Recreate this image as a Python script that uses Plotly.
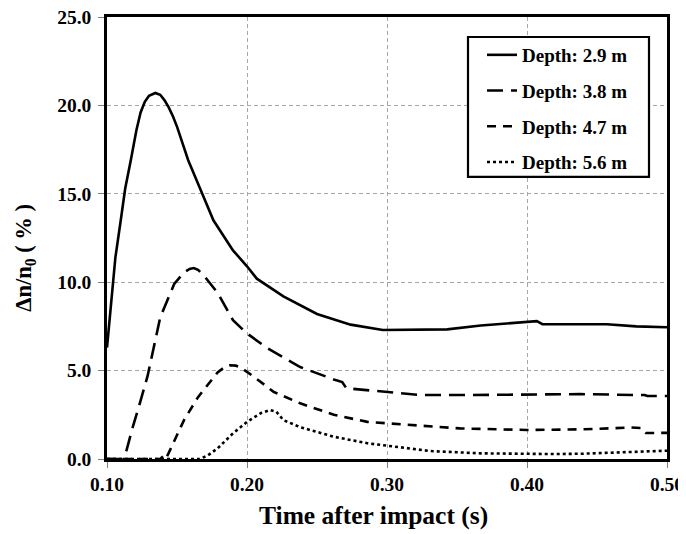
import plotly.graph_objects as go

# Depth 2.9 m
t1 = [0.100, 0.103, 0.106, 0.110, 0.113, 0.117, 0.121, 0.124, 0.127, 0.130, 0.1345, 0.138, 0.141,
      0.144, 0.147, 0.150, 0.158, 0.167, 0.176, 0.190, 0.200, 0.207, 0.226, 0.250, 0.274, 0.297,
      0.320, 0.343, 0.367, 0.385, 0.400, 0.405, 0.407, 0.411, 0.431, 0.457, 0.478, 0.500]
v1 = [6.3, 9.0, 11.4, 13.6, 15.3, 16.9, 18.6, 19.6, 20.2, 20.55, 20.7, 20.6, 20.3,
      19.9, 19.4, 18.8, 16.9, 15.2, 13.5, 11.8, 10.9, 10.2, 9.2, 8.2, 7.6, 7.3,
      7.3, 7.33, 7.55, 7.68, 7.76, 7.82, 7.8, 7.63, 7.63, 7.62, 7.5, 7.45]

# Depth 3.8 m
t2 = [0.100, 0.111, 0.114, 0.118, 0.124, 0.129, 0.138, 0.148, 0.155, 0.159, 0.162, 0.165, 0.169,
      0.179, 0.190, 0.200, 0.214, 0.238, 0.262, 0.268, 0.271, 0.285, 0.298, 0.324, 0.360, 0.400,
      0.438, 0.478, 0.484, 0.486, 0.500]
v2 = [0.0, 0.0, 0.5, 1.7, 3.3, 4.7, 8.0, 9.9, 10.55, 10.75, 10.8, 10.7, 10.4,
      9.4, 7.85, 7.1, 6.3, 5.2, 4.5, 4.35, 4.0, 3.9, 3.8, 3.62, 3.62, 3.65,
      3.67, 3.62, 3.62, 3.56, 3.56]

# Depth 4.7 m
t3 = [0.100, 0.138, 0.140, 0.142, 0.145, 0.155, 0.165, 0.179, 0.184, 0.188, 0.192, 0.195, 0.205,
      0.219, 0.238, 0.262, 0.286, 0.309, 0.330, 0.352, 0.400, 0.440, 0.474, 0.482, 0.485, 0.500]
v3 = [0.0, 0.0, 0.15, 0.0, 0.5, 2.2, 3.5, 4.9, 5.2, 5.3, 5.28, 5.2, 4.65,
      3.8, 3.15, 2.5, 2.1, 1.98, 1.85, 1.73, 1.64, 1.68, 1.78, 1.75, 1.47, 1.48]

# Depth 5.6 m
t4 = [0.100, 0.166, 0.172, 0.179, 0.190, 0.200, 0.210, 0.2166, 0.221, 0.226, 0.238, 0.262,
      0.286, 0.309, 0.331, 0.367, 0.400, 0.419, 0.440, 0.466, 0.500]
v4 = [0.0, 0.0, 0.2, 0.6, 1.45, 2.1, 2.6, 2.77, 2.67, 2.2, 1.8, 1.26,
      0.89, 0.66, 0.45, 0.32, 0.27, 0.28, 0.3, 0.36, 0.47]

names = ["Depth: 2.9 m", "Depth: 3.8 m", "Depth: 4.7 m", "Depth: 5.6 m"]
x_ticks = [0.10, 0.20, 0.30, 0.40, 0.50]
y_ticks = [0.0, 5.0, 10.0, 15.0, 20.0, 25.0]
x_title = "Time after impact (s)"
y_title = "Δn/n<sub>0</sub> ( % )"

FONT = "Liberation Serif"
series = [(t1, v1), (t2, v2), (t3, v3), (t4, v4)]
dashes = ["solid", "16px,8px", "9px,7px", "3px,3px"]

# plot area in page pixels (page has an 8px body offset)
PL, PR, PT, PB = 107.0, 667.0, 17.0, 459.5
PW, PH = PR - PL, PB - PT
def px(x): return (x - PL) / PW
def py(y): return (PB - y) / PH

fig = go.Figure()
for i, ((t, v), name, d) in enumerate(zip(series, names, dashes)):
    fig.add_trace(go.Scatter(
        x=t, y=v, mode="lines", name=name, legendgroup=f"g{i}",
        line=dict(color="black", width=2.6, dash=d),
    ))

axis_common = dict(
    showline=True, linecolor="black", linewidth=2.5, mirror=True,
    showgrid=True, gridcolor="#a6a6a6", gridwidth=1, griddash="4px,3px",
    ticks="outside", tickcolor="#808080", ticklen=6, tickwidth=1,
    tickfont=dict(family=FONT, size=19.5, color="black", weight="bold"),
    zeroline=False, automargin=False, ticklabeloverflow="allow",
)

fig.update_xaxes(range=[0.10, 0.50], tickvals=x_ticks, tickformat=".2f", **axis_common)
fig.update_yaxes(range=[0, 25], tickvals=y_ticks, tickformat=".1f", ticklabelstandoff=3, **axis_common)

# legend frame
fig.add_shape(type="rect", xref="paper", yref="paper",
              x0=px(468), x1=px(649), y0=py(177), y1=py(37),
              line=dict(color="black", width=2.2), fillcolor="white", layer="above")

fig.add_annotation(text=x_title, xref="paper", yref="paper",
                   x=px(373), y=py(516),
                   xanchor="center", yanchor="middle", showarrow=False,
                   font=dict(family=FONT, size=25.5, color="black", weight="bold"))
fig.add_annotation(text=y_title, xref="paper", yref="paper", textangle=-90,
                   x=px(25), y=py(258),
                   xanchor="center", yanchor="middle", showarrow=False,
                   font=dict(family=FONT, size=22.5, color="black", weight="bold"))

W, H = 678, 526
ml, mt = PL - 8, PT - 8
fig.update_layout(
    width=W, height=H,
    margin=dict(l=ml, r=W - ml - PW, t=mt, b=H - mt - PH),
    plot_bgcolor="white", paper_bgcolor="white",
    showlegend=True,
    legend=dict(
        x=px(482), y=py(36), xanchor="left", yanchor="top",
        bgcolor="rgba(0,0,0,0)", borderwidth=0,
        font=dict(family=FONT, size=19, color="black", weight="bold"),
        tracegroupgap=8, itemwidth=30,
    ),
)

fig.write_html("out.html")
